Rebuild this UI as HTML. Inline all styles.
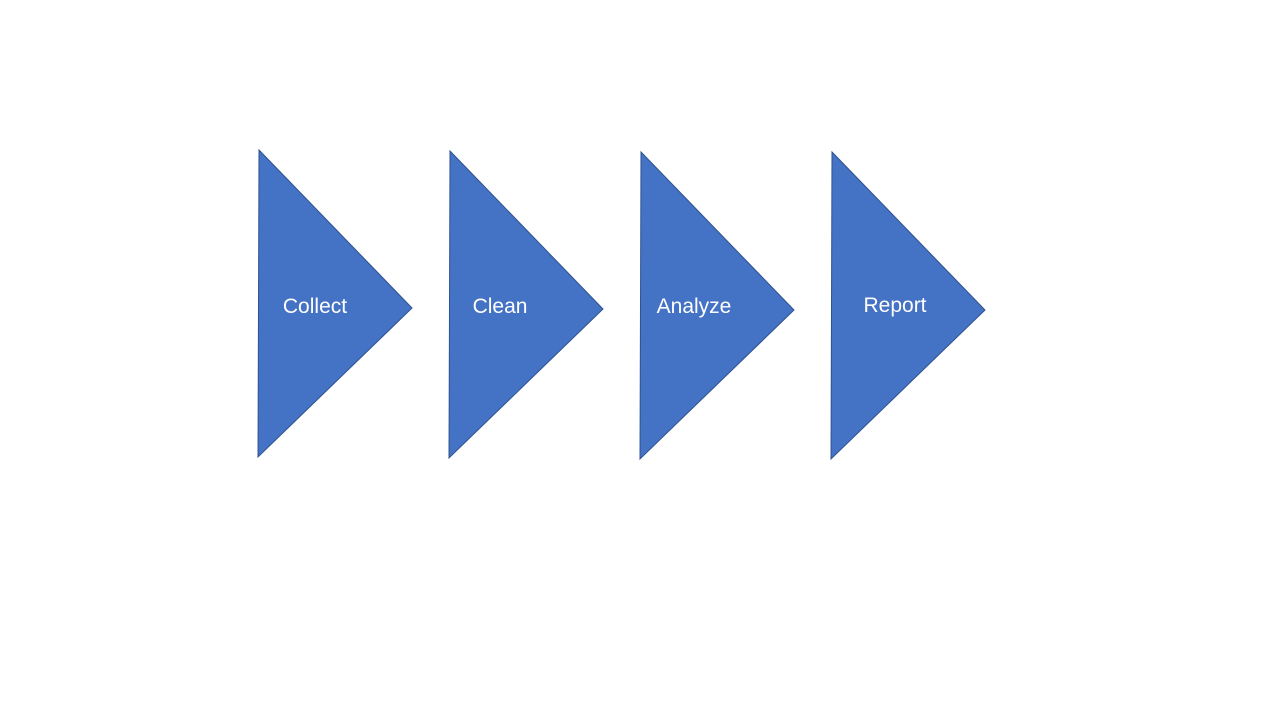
<!DOCTYPE html>
<html><head><meta charset="utf-8"><style>
html,body{margin:0;padding:0;background:#fff;width:1280px;height:720px;overflow:hidden}
</style></head><body>
<svg width="1280" height="720" viewBox="0 0 1280 720" xmlns="http://www.w3.org/2000/svg">
<g fill="#4472C4" stroke="#2F528F" stroke-width="1">
<polygon points="259,150 412,308 258,457"/>
<polygon points="450,151 603,309 449,458"/>
<polygon points="641,152 794,310 640,459"/>
<polygon points="832,152 985,310 831,459"/>
</g>
<g fill="#fff" font-family="Liberation Sans, sans-serif" font-size="21" text-anchor="middle">
<text x="315" y="313">Collect</text>
<text x="500" y="313">Clean</text>
<text x="694" y="313">Analyze</text>
<text x="895" y="312">Report</text>
</g>
</svg>
</body></html>
